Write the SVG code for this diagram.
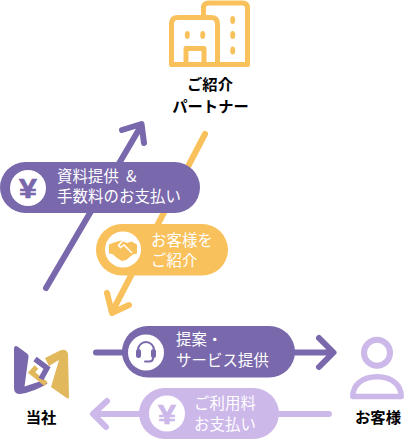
<svg xmlns="http://www.w3.org/2000/svg" width="404" height="440" viewBox="0 0 404 440">
<style>
.c{fill:none;stroke-width:6;stroke-linecap:round;stroke-linejoin:round}
.p{stroke:#7968ac}.y{stroke:#f9c15c}.l{stroke:#cdb8ea}
.t{font-family:"Noto Sans CJK JP","Noto Sans",sans-serif;font-size:15.400px;fill:#fff;letter-spacing:.1px}
.n{font-family:"Noto Sans CJK JP","Noto Sans",sans-serif;font-size:15.300px;font-weight:700;fill:#000;text-anchor:middle}
.yen{font-family:"Liberation Sans",sans-serif;font-size:28px;font-weight:700;text-anchor:middle;stroke-width:.7}
</style>
<g id="connectors">
<path class="c p" d="M46 288L141 126M122 130L141.500 124L144 143"/>
<path class="c y" d="M205 134L112 312M107 293L112 313L129 305"/>
<path class="c p" d="M96 352.500H332M319 338L333.500 352.500L319 367"/>
<path class="c l" d="M329 414H94M107 401L93 414L106 427"/>
</g>
<g id="partner">
<g fill="none" stroke="#f9c15c" stroke-width="5" stroke-linejoin="round">
<path d="M203.500 17V8Q203.500 3 208.500 3H242.500Q247.500 3 247.500 8V64.500H217.500"/>
<path d="M171.500 64.500V24Q171.500 17.500 178 17.500H211Q217.500 17.500 217.500 24V64.500Z"/>
<path d="M186 64.500V48.500H204V64.500"/>
</g>
<g fill="#f9c15c"><ellipse cx="187.300" cy="35" rx="2.500" ry="4"/><ellipse cx="202.700" cy="35" rx="2.500" ry="4"/><ellipse cx="232.700" cy="20" rx="2.500" ry="4"/><ellipse cx="232.700" cy="35" rx="2.500" ry="4"/><ellipse cx="232.700" cy="50.500" rx="2.500" ry="4"/></g>
<text class="n" x="210" y="90">ご紹介</text>
<text class="n" x="210.500" y="112">パートナー</text>
</g>
<g id="fee">
<rect x="0" y="162" width="200" height="51" rx="25.500" fill="#7968ac"/>
<circle cx="28" cy="188" r="18" fill="#fff"/>
<text class="yen" transform="translate(28 198) scale(1.15 1)" fill="#7968ac" stroke="#7968ac">¥</text>
<text class="t" x="57" y="182">資料提供<tspan dx="7">&amp;</tspan></text>
<text class="t" x="57" y="202">手数料のお支払い</text>
</g>
<g id="referral">
<rect x="96" y="224" width="132" height="51.500" rx="25.750" fill="#f9c15c"/>
<circle cx="123" cy="249.500" r="18" fill="#fff"/>
<path fill="#f9c15c" d="M109 244.500L114 242.500L121 240.500L127 243L131.500 241.500L137 244.500V253.500L133 254.500L126 260L122 261L117 258L112.500 254L109 253.500Z"/>
<path fill="none" stroke="#fff" stroke-width="1.500" stroke-linecap="round" d="M122 241.500L118.500 245.500L120.500 247.500L124 245L131.500 252.500"/>
<text class="t" x="151" y="246">お客様を</text>
<text class="t" x="151" y="266">ご紹介</text>
</g>
<g id="service">
<rect x="122" y="326" width="173" height="51.500" rx="25.750" fill="#7968ac"/>
<circle cx="146" cy="352.500" r="18" fill="#fff"/>
<path fill="none" stroke="#7968ac" stroke-width="2" d="M138 352V350A8 8 0 0 1 154 350V352"/>
<rect x="136" y="349" width="5" height="9" rx="2.500" fill="#7968ac"/>
<rect x="151" y="349" width="5" height="9" rx="2.500" fill="#7968ac"/>
<path fill="none" stroke="#7968ac" stroke-width="2" stroke-linecap="round" d="M153 358Q153 361.500 149 361.500H145"/>
<text class="t" x="176" y="345">提案・</text>
<text class="t" x="176" y="366">サービス提供</text>
</g>
<g id="payment">
<rect x="139" y="388" width="140" height="51" rx="25.500" fill="#cdb8ea"/>
<circle cx="167" cy="413.500" r="18" fill="#fff"/>
<text class="yen" transform="translate(167 423.500) scale(1.15 1)" fill="#cdb8ea" stroke="#cdb8ea">¥</text>
<text class="t" x="194" y="409">ご利用料</text>
<text class="t" x="194" y="430">お支払い</text>
</g>
<g id="company">
<path fill="#7968ac" d="M14 349Q14 345 17.500 346.500L27 353.500Q29 355 28.500 357L24.500 386.500L44 380L47.500 383.500Q34 392 20 394Q14 394 14 388Z"/>
<path fill="#e2b85c" d="M45 358L60 350.500Q66.500 348 68 354L69 397Q69 399.500 66 397.500L51 387L59 360L49 366Z"/>
<path fill="none" stroke="#e2b85c" stroke-width="5" d="M36.500 367L31.500 372.500L46 384"/>
<path fill="none" stroke="#7968ac" stroke-width="5.500" d="M35 359L47 368L41 379"/>
<text class="n" x="41" y="423">当社</text>
</g>
<g id="customer">
<circle cx="377" cy="352.700" r="13" fill="none" stroke="#cdb8ea" stroke-width="6"/>
<path fill="none" stroke="#cdb8ea" stroke-width="5.500" stroke-linejoin="round" d="M352.800 396.500H401.200C401.200 385 392 376.800 377 376.800C362 376.800 352.800 385 352.800 396.500Z"/>
<text class="n" x="378" y="423">お客様</text>
</g>
</svg>
